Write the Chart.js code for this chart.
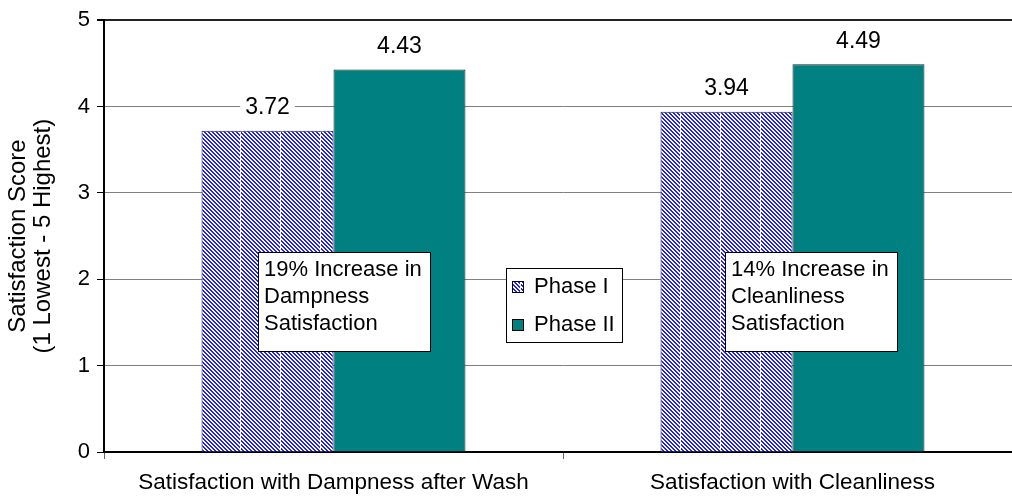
<!DOCTYPE html>
<html>
<head>
<meta charset="utf-8">
<script src="https://cdn.jsdelivr.net/npm/chart.js@4.4.1/dist/chart.umd.min.js"></script>
<style>
  html, body { margin: 0; padding: 0; background: #fff; overflow: hidden; }
  #wrap { position: absolute; left: 0; top: 0; width: 1030px; height: 500px; }
</style>
</head>
<body>
<div id="wrap"><canvas id="scoreChart" width="1030" height="500"></canvas></div>
<script>
const categories = ["Satisfaction with Dampness after Wash", "Satisfaction with Cleanliness"];
const seriesNames = ["Phase I", "Phase II"];
const phase1 = [3.72, 3.94];
const phase2 = [4.43, 4.49];
const boxNotes = [
  ["19% Increase in", "Dampness", "Satisfaction"],
  ["14% Increase in", "Cleanliness", "Satisfaction"]
];
const yTitle = ["Satisfaction Score", "(1 Lowest - 5 Highest)"];

const FONT = "Liberation Sans, Arial, sans-serif";

// blue diagonal hatch, white vertical seams like the original fill
function makeHatch() {
  const c = document.createElement("canvas");
  c.width = 40;
  c.height = 40;
  const g = c.getContext("2d");
  const img = g.createImageData(40, 40);
  for (let y = 0; y < 40; y++) {
    for (let x = 0; x < 40; x++) {
      const i = (y * 40 + x) * 4;
      let blue = ((x - y) % 4 + 4) % 4 < 2;
      if (x === 0) blue = false;
      img.data[i] = blue ? 30 : 255;
      img.data[i + 1] = blue ? 30 : 255;
      img.data[i + 2] = 255;
      img.data[i + 3] = 255;
    }
  }
  g.putImageData(img, 0, 0);
  return g.createPattern(c, "repeat");
}

const ctx = document.getElementById("scoreChart").getContext("2d");
const hatch = makeHatch();

const extras = {
  id: "extras",
  afterDatasetsDraw(chart) {
    const g = chart.ctx;
    const xs = chart.scales.x;
    const ys = chart.scales.y;
    g.save();

    // value labels with white backing
    g.font = "23px " + FONT;
    chart.data.datasets.forEach((ds, di) => {
      chart.getDatasetMeta(di).data.forEach((bar, i) => {
        const txt = ds.data[i].toFixed(2);
        const w = g.measureText(txt).width;
        const cy = bar.y - 24;
        g.fillStyle = "#fff";
        g.fillRect(bar.x - w / 2 - 5, cy - 12, w + 10, 24);
        g.fillStyle = "#000";
        g.textAlign = "center";
        g.textBaseline = "middle";
        g.fillText(txt, bar.x, cy + 1);
      });
    });

    // note boxes
    g.font = "22px " + FONT;
    const boxOffsets = [-76, -68];
    boxNotes.forEach((lines, i) => {
      const left = Math.round(xs.getPixelForValue(i) + boxOffsets[i]);
      const top = Math.round(ys.getPixelForValue(2.32));
      const bottom = Math.round(ys.getPixelForValue(1.17));
      g.fillStyle = "#fff";
      g.fillRect(left, top, 172, bottom - top);
      g.strokeStyle = "#000";
      g.lineWidth = 1;
      g.strokeRect(left + 0.5, top + 0.5, 172, bottom - top);
      g.fillStyle = "#000";
      g.textAlign = "left";
      g.textBaseline = "middle";
      lines.forEach((ln, k) => g.fillText(ln, left + 6, top + 18 + k * 27));
    });

    // legend box
    const lx = Math.round((xs.getPixelForValue(0) + xs.getPixelForValue(1)) / 2 - 57);
    const ly = Math.round(ys.getPixelForValue(2.13));
    g.fillStyle = "#fff";
    g.fillRect(lx, ly, 116, 74);
    g.strokeStyle = "#000";
    g.strokeRect(lx + 0.5, ly + 0.5, 116, 74);
    chart.data.datasets.forEach((ds, di) => {
      const cy = ly + 18 + di * 38;
      g.fillStyle = ds.backgroundColor;
      g.fillRect(lx + 6, cy - 5, 11, 11);
      g.strokeStyle = "#000";
      g.strokeRect(lx + 6.5, cy - 4.5, 11, 11);
      g.fillStyle = "#000";
      g.textAlign = "left";
      g.textBaseline = "middle";
      g.fillText(ds.label, lx + 28, cy + 1);
    });
    g.restore();
  }
};

new Chart(ctx, {
  type: "bar",
  data: {
    labels: categories,
    datasets: [
      {
        label: seriesNames[0],
        data: phase1,
        backgroundColor: hatch,
        borderColor: "#222",
        borderWidth: 1,
      },
      {
        label: seriesNames[1],
        data: phase2,
        backgroundColor: "#008080",
        borderColor: "#222",
        borderWidth: 1,
      },
    ],
  },
  options: {
    responsive: false,
    animation: false,
    events: [],
    layout: { padding: { top: 15, right: 8, left: 0, bottom: 0 } },
    datasets: { bar: { categoryPercentage: 0.575, barPercentage: 1 } },
    plugins: {
      legend: { display: false },
      tooltip: { enabled: false },
    },
    scales: {
      x: {
        offset: true,
        grid: {
          offset: true,
          drawOnChartArea: false,
          tickLength: 7,
          tickColor: "#666",
        },
        border: { color: "#000", width: 2 },
        ticks: {
          color: "#000",
          padding: 10,
          maxRotation: 0,
          font: { family: FONT, size: 22.5 },
        },
        afterFit(scale) { scale.height = 48; },
      },
      y: {
        min: 0,
        max: 5,
        ticks: {
          stepSize: 1,
          color: "#000",
          padding: 7,
          font: { family: FONT, size: 22 },
        },
        grid: {
          color: (c) => (c.tick && c.tick.value === 5 ? "#222" : "#808080"),
          lineWidth: (c) => (c.tick && c.tick.value === 5 ? 2 : 1),
          tickLength: 7,
          tickColor: "#000",
        },
        border: { color: "#000", width: 2 },
        title: {
          display: true,
          text: yTitle,
          color: "#000",
          padding: { top: 6, bottom: 0 },
          font: { family: FONT, size: 24, lineHeight: 1.05 },
        },
        afterFit(scale) { scale.width = 104; },
      },
    },
  },
  plugins: [extras],
});
</script>
</body>
</html>
